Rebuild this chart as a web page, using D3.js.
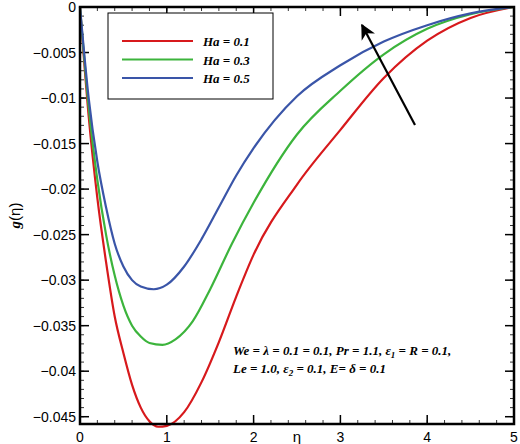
<!DOCTYPE html>
<html lang="en">
<head>
<meta charset="UTF-8" />
<script src="https://cdn.jsdelivr.net/npm/d3@7"></script>
<style>
  body { margin: 0; background: #fff; font-family: Arial, "Liberation Sans", sans-serif; }
  .lbl { font-family: "Liberation Serif", serif; font-weight: bold; font-style: italic; font-size: 13px; }
</style>
</head>
<body>
<svg id="chart" width="520" height="444"></svg>
<script>
  const etaRed   = [0, 0.1, 0.2, 0.3, 0.4, 0.5, 0.6, 0.7, 0.8, 0.9, 1.0, 1.2, 1.4, 1.6, 1.8, 2.0, 2.5, 3.0, 3.5, 4.0, 4.5, 5];
  const gRed     = [0, -0.012, -0.021, -0.028, -0.034, -0.038, -0.0415, -0.044, -0.0455, -0.0461, -0.046, -0.0445, -0.0412, -0.0368, -0.0318, -0.0272, -0.0195, -0.0135, -0.0078, -0.0037, -0.0012, 0];
  const etaGreen = [0, 0.1, 0.2, 0.3, 0.4, 0.5, 0.6, 0.7, 0.8, 0.95, 1.1, 1.3, 1.5, 1.75, 2.0, 2.5, 3.0, 3.5, 4.0, 4.5, 5];
  const gGreen   = [0, -0.011, -0.019, -0.025, -0.0295, -0.0328, -0.035, -0.0362, -0.0369, -0.0371, -0.0365, -0.0345, -0.031, -0.026, -0.0215, -0.014, -0.0092, -0.0052, -0.0024, -0.0008, 0];
  const etaBlue  = [0, 0.1, 0.2, 0.3, 0.4, 0.5, 0.6, 0.7, 0.85, 1.0, 1.2, 1.4, 1.6, 1.8, 2.0, 2.5, 3.0, 3.5, 4.0, 4.5, 5];
  const gBlue    = [0, -0.010, -0.017, -0.022, -0.026, -0.0285, -0.030, -0.0307, -0.031, -0.0305, -0.0285, -0.0255, -0.022, -0.0185, -0.0155, -0.0098, -0.0064, -0.0038, -0.002, -0.0007, 0];
  const seriesNames = ["Ha = 0.1", "Ha = 0.3", "Ha = 0.5"];
  const colors = ["#d7191c", "#3cb43c", "#3a55a8"];
  const xTicks = [0, 1, 2, 3, 4, 5];
  const yTicks = [0, -0.005, -0.01, -0.015, -0.02, -0.025, -0.03, -0.035, -0.04, -0.045];

  const svg = d3.select("#chart");
  const pL = 80, pR = 514, pT = 7, pB = 424;
  const x = d3.scaleLinear().domain([0, 5]).range([pL, pR]);
  const y = d3.scaleLinear().domain([-0.0458, 0]).range([pB, pT]);

  // minor ticks
  const g = svg.append("g").attr("stroke", "#000");
  d3.range(0, 5.001, 0.2).forEach(v => {
    g.append("line").attr("x1", x(v)).attr("x2", x(v)).attr("y1", pB).attr("y2", pB - 4).attr("stroke-width", 0.8);
    g.append("line").attr("x1", x(v)).attr("x2", x(v)).attr("y1", pT).attr("y2", pT + 4).attr("stroke-width", 0.8);
  });
  d3.range(0, -0.0458, -0.001).forEach(v => {
    g.append("line").attr("x1", pL).attr("x2", pL + 4).attr("y1", y(v)).attr("y2", y(v)).attr("stroke-width", 0.8);
    g.append("line").attr("x1", pR).attr("x2", pR - 4).attr("y1", y(v)).attr("y2", y(v)).attr("stroke-width", 0.8);
  });
  xTicks.forEach(v => {
    g.append("line").attr("x1", x(v)).attr("x2", x(v)).attr("y1", pB).attr("y2", pB - 9).attr("stroke-width", 1.5);
    g.append("line").attr("x1", x(v)).attr("x2", x(v)).attr("y1", pT).attr("y2", pT + 9).attr("stroke-width", 1.5);
    svg.append("text").attr("x", x(v)).attr("y", pB + 18).attr("text-anchor", "middle").attr("font-size", 14).text(v);
  });
  yTicks.forEach(v => {
    g.append("line").attr("x1", pL).attr("x2", pL + 9).attr("y1", y(v)).attr("y2", y(v)).attr("stroke-width", 1.5);
    g.append("line").attr("x1", pR).attr("x2", pR - 9).attr("y1", y(v)).attr("y2", y(v)).attr("stroke-width", 1.5);
    svg.append("text").attr("x", pL - 4).attr("y", y(v) + 5).attr("text-anchor", "end").attr("font-size", 14)
      .text(v === 0 ? "0" : "\u2212" + String(-v));
  });

  const line = d3.line().x(d => x(d[0])).y(d => y(d[1])).curve(d3.curveMonotoneX);
  const data = [d3.zip(etaRed, gRed), d3.zip(etaGreen, gGreen), d3.zip(etaBlue, gBlue)];
  data.forEach((d, i) => {
    svg.append("path").datum(d).attr("d", line).attr("fill", "none").attr("stroke", colors[i]).attr("stroke-width", 2.2);
  });

  svg.append("rect").attr("x", pL).attr("y", pT).attr("width", pR - pL).attr("height", pB - pT)
    .attr("fill", "none").attr("stroke", "#000").attr("stroke-width", 2.5);

  // legend
  svg.append("rect").attr("x", 108).attr("y", 13).attr("width", 165).attr("height", 86)
    .attr("fill", "#fff").attr("stroke", "#000").attr("stroke-width", 1);
  seriesNames.forEach((s, i) => {
    const ly = 41 + i * 18.5;
    svg.append("line").attr("x1", 122).attr("x2", 193).attr("y1", ly).attr("y2", ly).attr("stroke", colors[i]).attr("stroke-width", 2.2);
    svg.append("text").attr("class", "lbl").attr("x", 203).attr("y", ly + 5).attr("font-size", 14).text(s);
  });

  // arrow
  svg.append("defs").append("marker").attr("id", "ah").attr("viewBox", "0 0 10 10").attr("refX", 9).attr("refY", 5)
    .attr("markerWidth", 7).attr("markerHeight", 7).attr("orient", "auto")
    .append("path").attr("d", "M0,0 L10,5 L0,10 L3,5 Z").attr("fill", "#000");
  svg.append("line").attr("x1", 415).attr("y1", 125).attr("x2", 362).attr("y2", 25)
    .attr("stroke", "#000").attr("stroke-width", 2.2).attr("marker-end", "url(#ah)");

  // annotation
  const ann = svg.append("text").attr("class", "lbl").attr("x", 233).attr("y", 355);
  ann.append("tspan").text("We = \u03bb = 0.1 = 0.1, Pr = 1.1, \u03b5");
  ann.append("tspan").attr("font-size", 9).attr("dy", 3).text("1");
  ann.append("tspan").attr("dy", -3).text(" = R = 0.1,");
  const ann2 = svg.append("text").attr("class", "lbl").attr("x", 233).attr("y", 373);
  ann2.append("tspan").text("Le = 1.0, \u03b5");
  ann2.append("tspan").attr("font-size", 9).attr("dy", 3).text("2");
  ann2.append("tspan").attr("dy", -3).text(" = 0.1,  E= \u03b4 = 0.1");

  // axis titles
  svg.append("text").attr("x", x(2.5)).attr("y", 442).attr("text-anchor", "middle").attr("font-size", 15).text("\u03b7");
  const yt = svg.append("text").attr("transform", `translate(20,${(pT + pB) / 2}) rotate(-90)`)
    .attr("text-anchor", "middle").attr("font-size", 15);
  yt.append("tspan").attr("font-family", "Liberation Serif, serif").attr("font-weight", "bold").attr("font-style", "italic").text("g");
  yt.append("tspan").text("(\u03b7)");
</script>
</body>
</html>
